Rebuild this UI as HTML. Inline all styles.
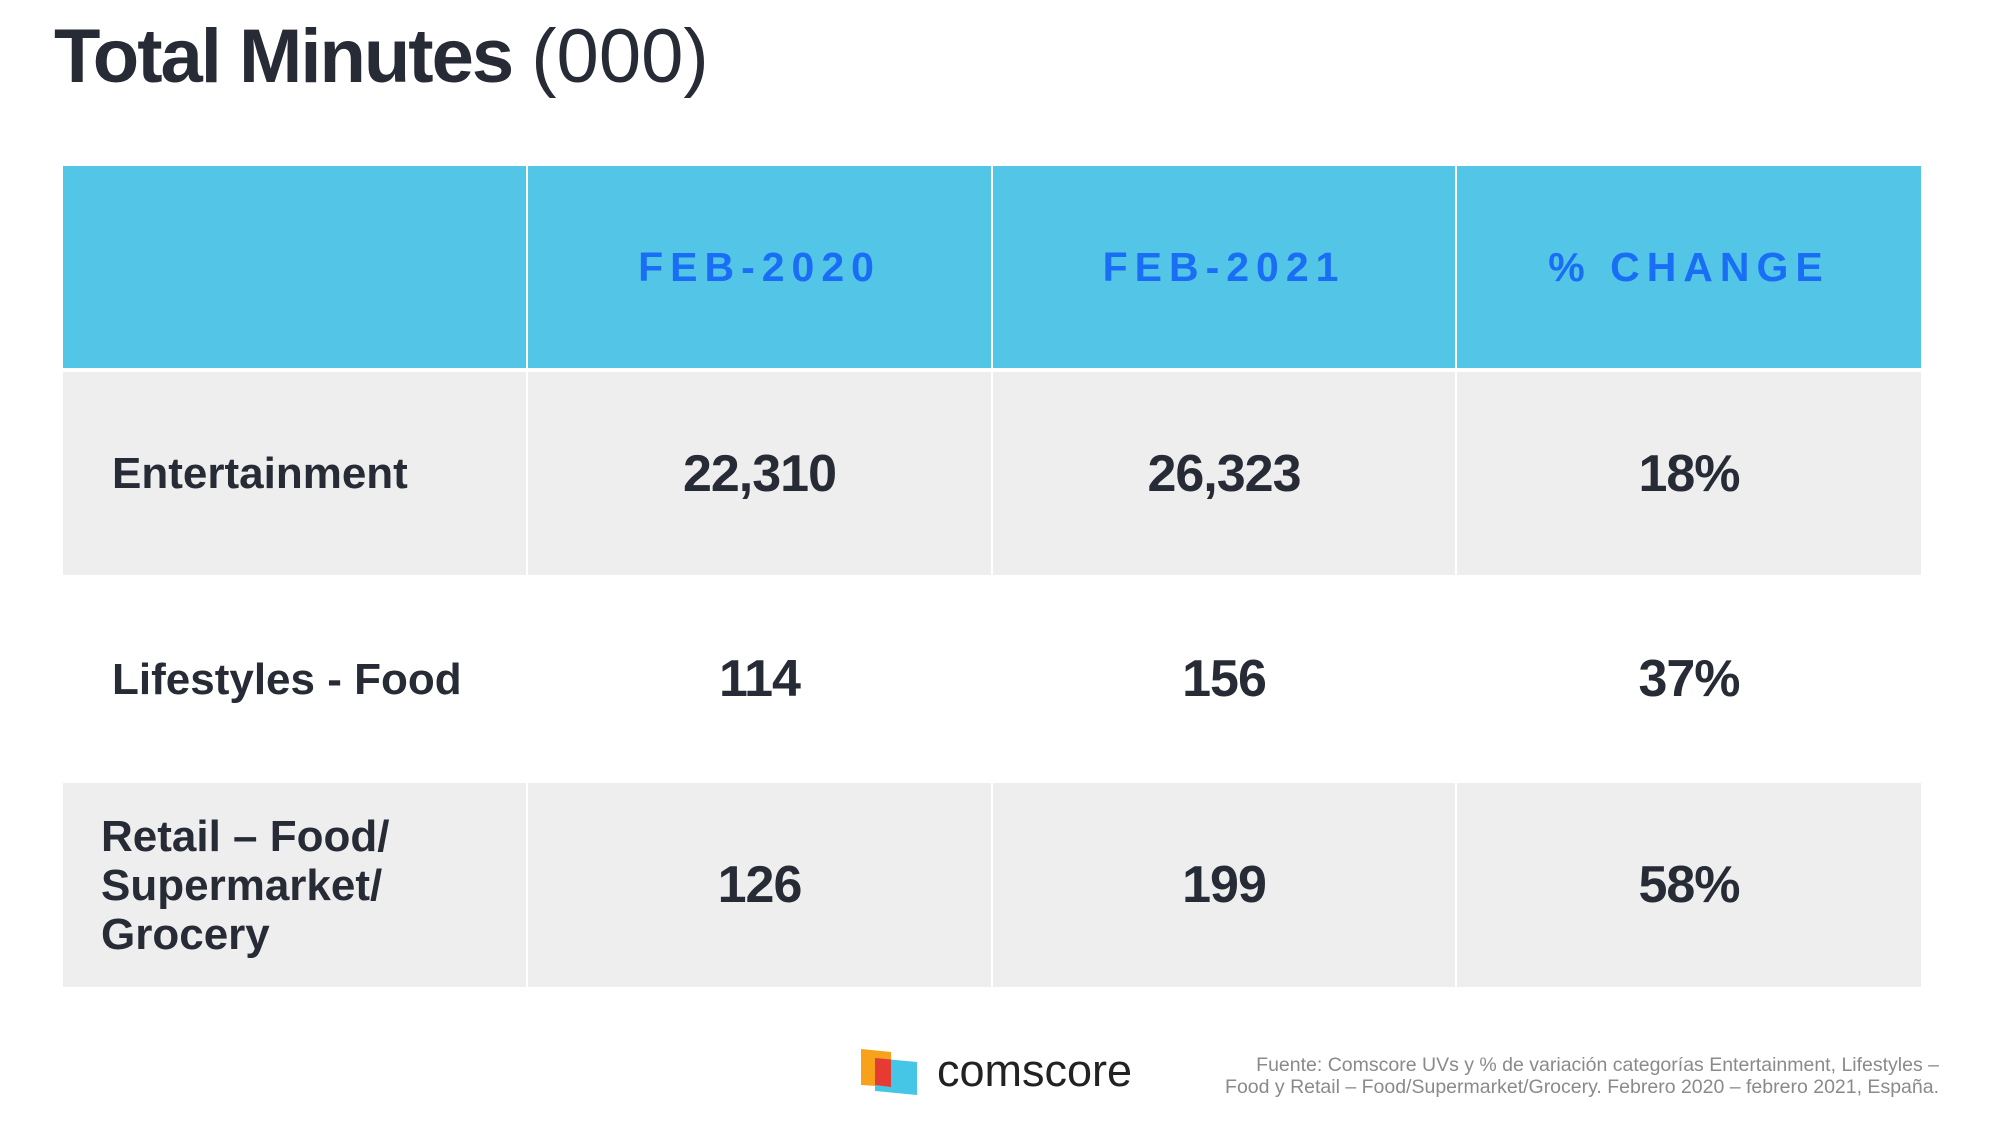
<!DOCTYPE html>
<html><head><meta charset="utf-8"><style>
body{margin:0;width:2000px;height:1125px;background:#fff;position:relative;overflow:hidden;font-family:"Liberation Sans",sans-serif;color:#272b36}
.abs{position:absolute}
.title{left:54px;top:13px;font-size:76px;font-weight:bold;letter-spacing:-2px;white-space:nowrap}
.title span{font-weight:normal;letter-spacing:0}
.cell{position:absolute;display:flex;align-items:center;justify-content:center;box-sizing:border-box}
.hdr{background:#53c6e8;color:#1a6ef5;font-weight:bold;font-size:41px;letter-spacing:7px}
.gray{background:#eeeeee}
.lbl{justify-content:flex-start;font-weight:bold;font-size:44px;line-height:49px}
.val{font-weight:bold;font-size:52px;letter-spacing:-1px}
.foot{right:61px;top:1054px;font-size:19.5px;color:#8a8a8a;text-align:right;line-height:22px}
</style></head><body>
<div class="abs title">Total Minutes <span>(000)</span></div>
<div id="tbl"></div>
<div class="abs" style="left:861px;top:1049px;width:56px;height:46px">
<svg width="56" height="46"><polygon points="0,0 30,3 30,38 0,36" fill="#f8a21b"/><polygon points="14,9 56,13 56,46 14,42" fill="#45c6e6"/><polygon points="14,9 30,10.5 30,38 14,36" fill="#e63b33"/></svg></div>
<div class="abs" style="left:937px;top:1045px;font-size:45px;color:#222">comscore</div>
<div class="abs foot">Fuente: Comscore UVs y % de variación categorías Entertainment, Lifestyles –<br>Food y Retail – Food/Supermarket/Grocery. Febrero 2020 – febrero 2021, España.</div>
<script>
const headers=["","FEB-2020","FEB-2021","% CHANGE"];
const categories=["Entertainment","Lifestyles - Food","Retail – Food/<br>Supermarket/<br>Grocery"];
const feb2020=["22,310","114","126"];
const feb2021=["26,323","156","199"];
const pctChange=["18%","37%","58%"];
const colX=[63,526,991,1455,1921];
const rowY=[166,372,575,783,987];
const t=document.getElementById('tbl');
function cell(x0,x1,y0,y1,cls,html,name){
 const d=document.createElement('div');
 d.className='cell '+cls;
 d.style.left=x0+'px';d.style.width=(x1-x0)+'px';d.style.top=y0+'px';d.style.height=(y1-y0)+'px';
 d.innerHTML=html;
 
 
 t.appendChild(d);return d;}
for(let c=0;c<4;c++){cell(colX[c]+(c?2:0),colX[c+1],rowY[0],rowY[1]-4,'hdr',headers[c],'header-cell-'+(c+1));}
for(let r=0;r<3;r++){
 const g=r%2===0?'gray':'';
 const y0=rowY[r+1],y1=rowY[r+2];
 const l=cell(colX[0],colX[1],y0,y1,g+' lbl',categories[r],'row-label-'+(r+1));
 l.style.paddingLeft=(r===2?38:49)+'px';
 const vals=[feb2020[r],feb2021[r],pctChange[r]];
 for(let c=1;c<4;c++){cell(colX[c]+2,colX[c+1],y0,y1,g+' val',vals[c-1],'value-cell-r'+(r+1)+'-c'+c);}
}
</script>
</body></html>
